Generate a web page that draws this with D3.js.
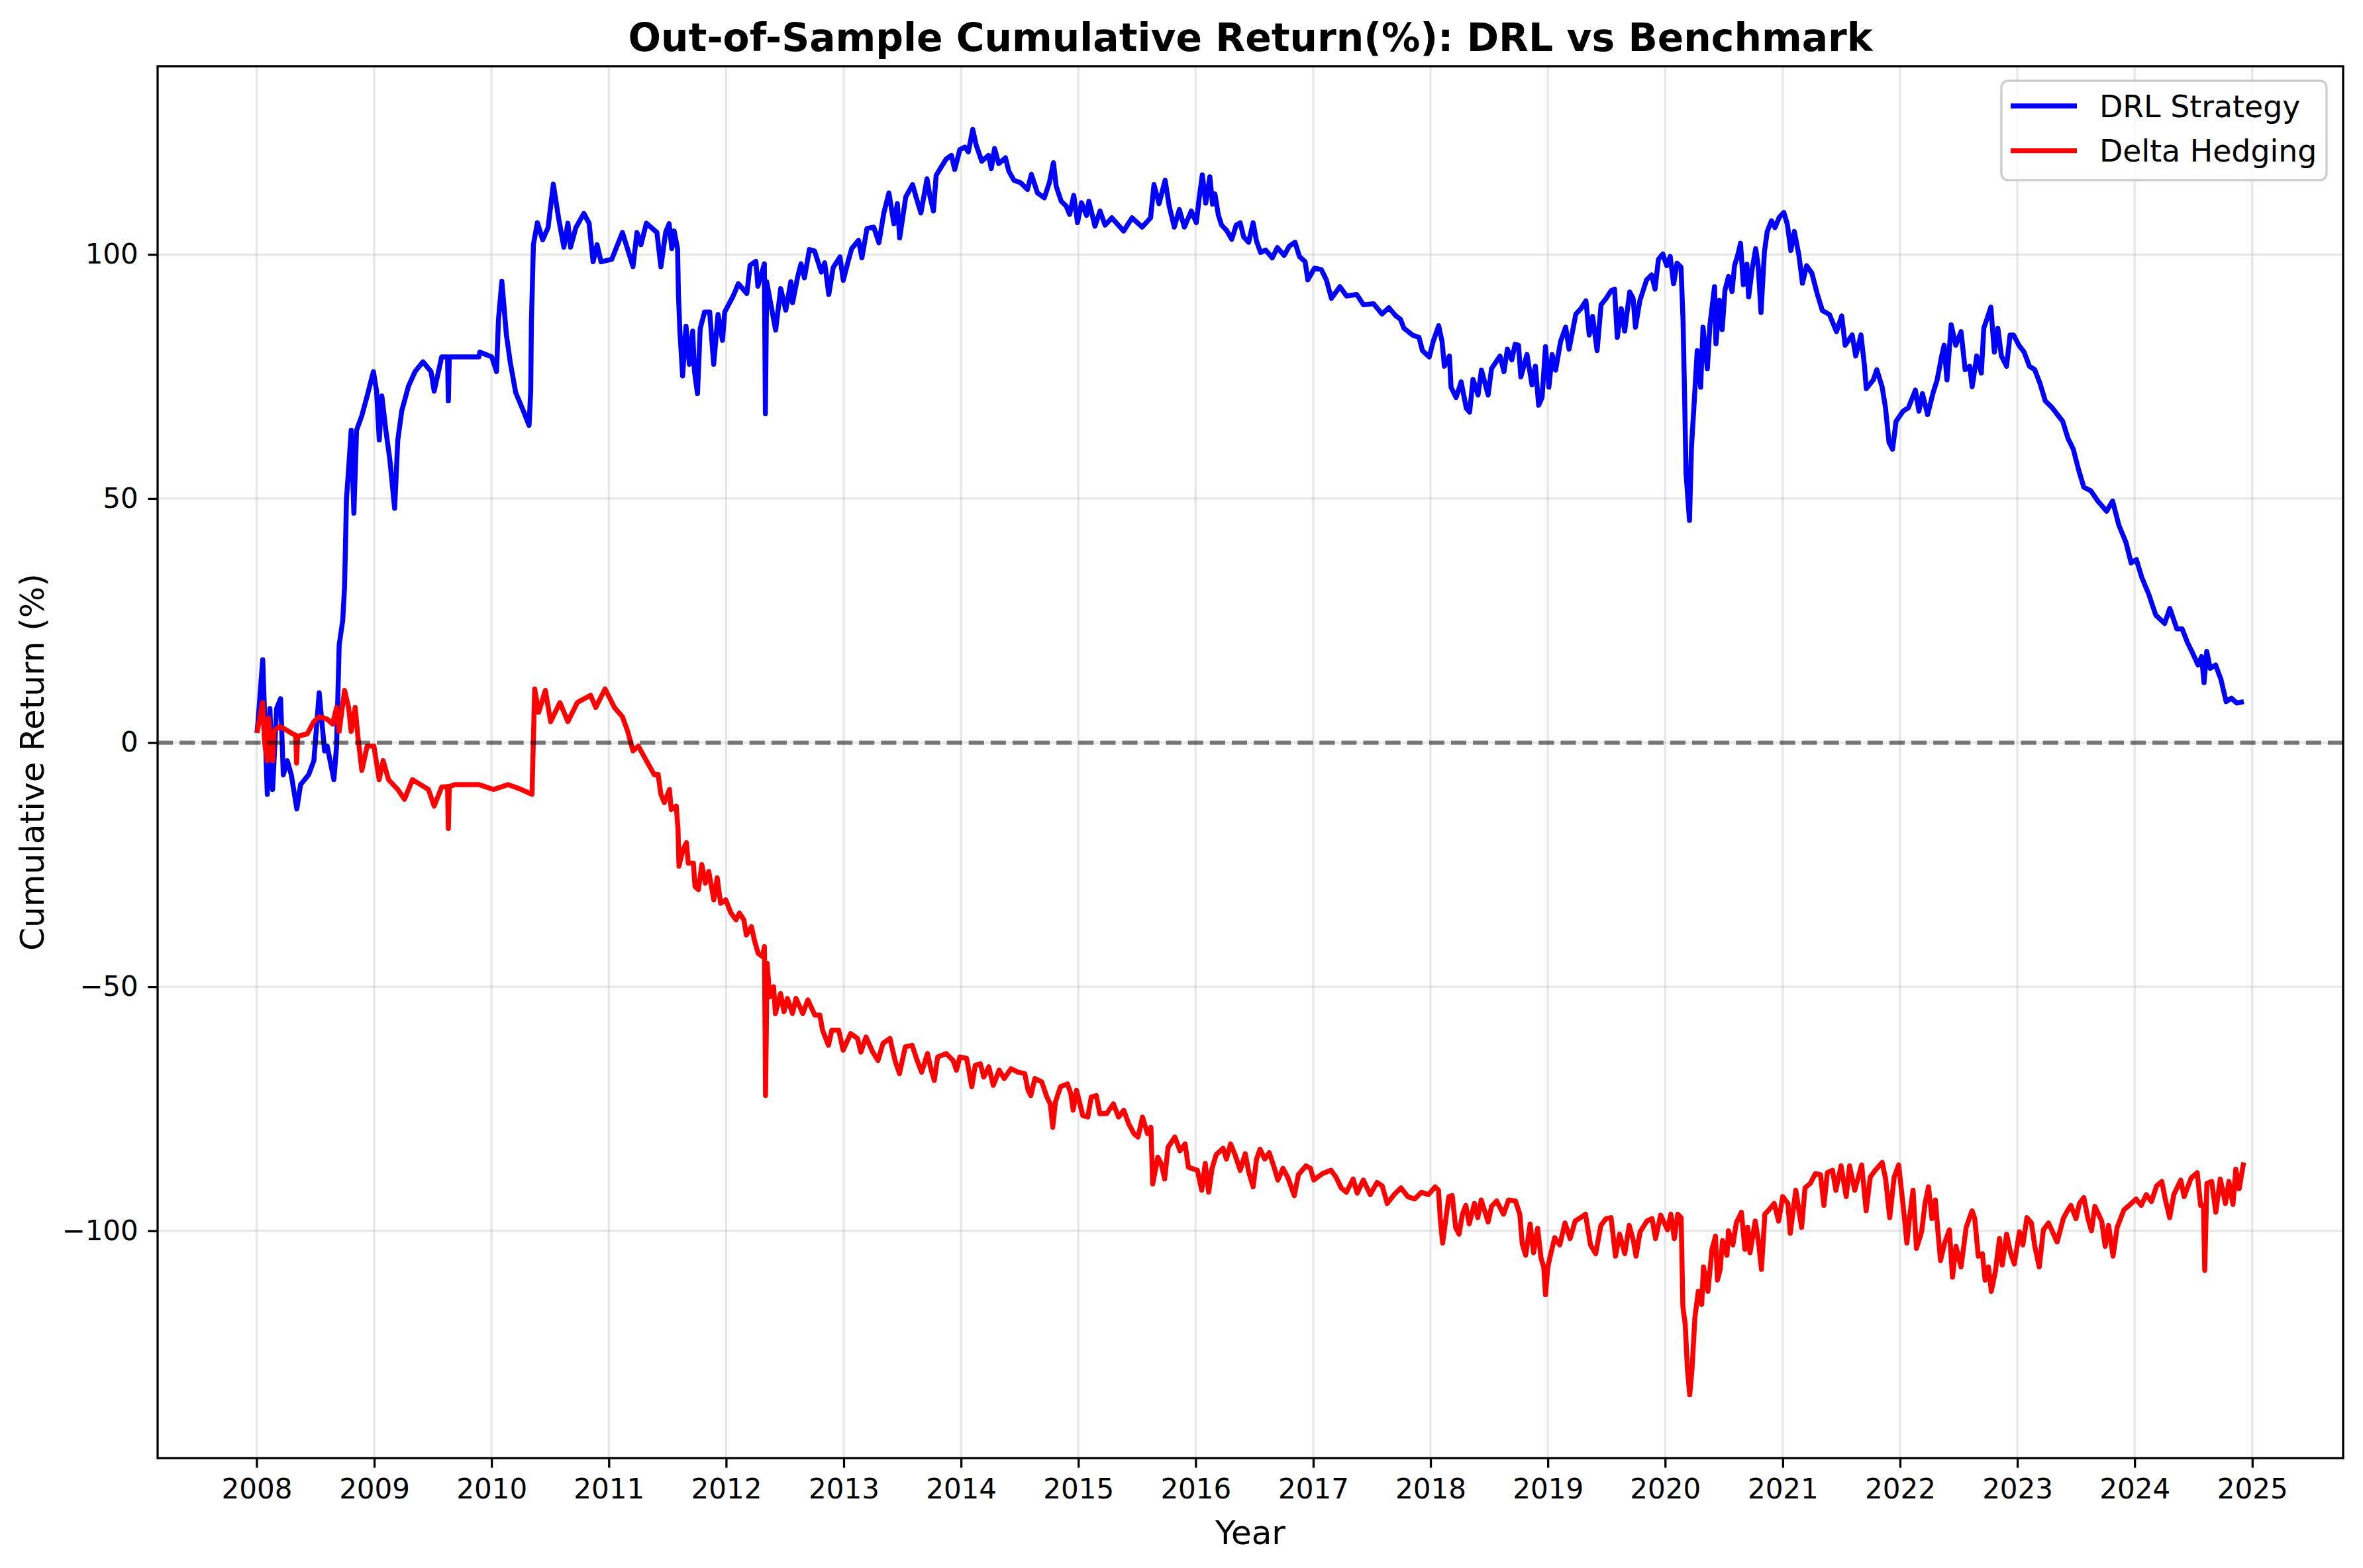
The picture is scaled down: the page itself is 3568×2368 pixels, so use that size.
<!DOCTYPE html>
<html><head><meta charset="utf-8">
<script src="https://cdn.jsdelivr.net/npm/d3@7"></script>
<style>html,body{margin:0;padding:0;background:#fff}</style>
</head><body><svg id="c" width="3568" height="2368" xmlns="http://www.w3.org/2000/svg"></svg>
<script>
const chartTitle = "Out-of-Sample Cumulative Return(%): DRL vs Benchmark";
const xLabel = "Year";
const yLabel = "Cumulative Return (%)";
const seriesNames = ["DRL Strategy", "Delta Hedging"];
const seriesColors = ["#0000ff", "#ff0000"];
const xTickYears = [2008,2009,2010,2011,2012,2013,2014,2015,2016,2017,2018,2019,2020,2021,2022,2023,2024,2025];
const yTicks = [-100, -50, 0, 50, 100];

// [decimal year, cumulative return %]
const drlPoints = [
[2008.003,2],[2008.011,4],[2008.052,17],[2008.091,-10.6],[2008.113,7],[2008.136,-9.6],[2008.170,7],[2008.204,9],[2008.227,-6.6],[2008.261,-3.7],[2008.295,-6.6],[2008.342,-13.6],[2008.374,-8.6],[2008.442,-6.6],[2008.487,-3.7],[2008.532,10.2],[2008.578,-1.7],[2008.600,-0.7],[2008.657,-7.6],[2008.680,-0.7],[2008.702,20],[2008.732,25],[2008.748,32],[2008.764,50],[2008.782,56],[2008.804,64],[2008.827,47],[2008.850,64],[2008.895,67],[2008.940,71],[2008.993,76],
[2009.020,72],[2009.043,62],[2009.065,71],[2009.099,64],[2009.133,58],[2009.174,48],[2009.201,62],[2009.235,68],[2009.292,73],[2009.348,76],[2009.416,78],[2009.484,76],[2009.511,72],[2009.575,79],[2009.625,79],[2009.632,70],[2009.640,79],[2009.711,79],[2009.892,79],[2009.900,80],
[2010.002,79],[2010.043,76],[2010.059,86.6],[2010.088,94.5],[2010.127,83.5],[2010.161,77.7],[2010.206,71.7],[2010.274,67.8],[2010.320,65],[2010.334,72],[2010.340,86],[2010.357,102],[2010.391,106.5],[2010.436,103],[2010.482,105.5],[2010.527,114.4],[2010.572,107.4],[2010.617,101.5],[2010.651,106.4],[2010.674,101.5],[2010.719,105.5],[2010.787,108.4],[2010.832,106.4],[2010.866,98.5],[2010.900,102],[2010.934,98.5],
[2011.025,99],[2011.116,104.5],[2011.206,97.5],[2011.240,104.5],[2011.274,102],[2011.320,106.4],[2011.410,104.5],[2011.444,97.5],[2011.485,104.6],[2011.514,106.3],[2011.537,101.2],[2011.557,104.8],[2011.586,101.2],[2011.594,91.5],[2011.606,84.3],[2011.629,75.1],[2011.658,85.3],[2011.687,77.5],[2011.715,84.3],[2011.730,76.1],[2011.756,71.5],[2011.779,84.8],[2011.816,88.2],[2011.860,88.2],[2011.894,77.5],[2011.931,87.7],[2011.969,82.4],[2011.988,88.2],
[2012.060,91.5],[2012.104,94.0],[2012.176,92],[2012.204,97.8],[2012.253,98.6],[2012.270,93.5],[2012.305,96.4],[2012.325,98.1],[2012.334,67.4],[2012.345,94.4],[2012.392,88.2],[2012.421,84.5],[2012.464,93],[2012.507,88.6],[2012.550,94.4],[2012.565,90.1],[2012.608,95.4],[2012.637,98.1],[2012.666,95.2],[2012.708,101],[2012.752,100.7],[2012.809,96.4],[2012.838,98.3],[2012.873,91.8],[2012.910,97.3],[2012.968,99.5],[2012.996,94.7],
[2013.040,98.8],[2013.068,101.2],[2013.126,102.9],[2013.155,99.3],[2013.198,105.3],[2013.256,105.6],[2013.300,102.4],[2013.342,108.5],[2013.385,112.6],[2013.428,106.3],[2013.457,110.4],[2013.477,103.4],[2013.529,111.8],[2013.587,114.3],[2013.616,111.8],[2013.658,108.5],[2013.710,115.5],[2013.736,111.8],[2013.765,108.9],[2013.788,116.2],[2013.831,117.9],[2013.875,119.6],[2013.918,120.3],[2013.946,117.4],[2013.990,121.5],
[2014.033,122],[2014.062,121],[2014.100,125.6],[2014.128,122.5],[2014.177,119.1],[2014.235,120.3],[2014.258,117.6],[2014.286,121.7],[2014.321,118.6],[2014.379,119.8],[2014.407,117.1],[2014.451,115.2],[2014.508,114.7],[2014.566,113.3],[2014.600,116.4],[2014.652,112.6],[2014.710,111.6],[2014.753,114.7],[2014.788,118.8],[2014.811,114],[2014.854,110.9],[2014.897,109.9],[2014.926,108.2],[2014.961,112.1],[2014.993,106.5],
[2015.027,110.6],[2015.070,108],[2015.090,110.9],[2015.142,105.8],[2015.185,108.9],[2015.228,106],[2015.286,107.5],[2015.386,104.8],[2015.458,107.5],[2015.544,105.6],[2015.616,107.5],[2015.645,114.3],[2015.688,110.4],[2015.740,115.2],[2015.775,109.9],[2015.818,105.6],[2015.861,109.2],[2015.904,105.6],[2015.963,108.9],
[2016.006,106.5],[2016.029,111.3],[2016.057,116.3],[2016.086,110.5],[2016.121,115.9],[2016.144,110.3],[2016.164,112.4],[2016.193,108.1],[2016.221,106],[2016.264,104.9],[2016.307,103.1],[2016.345,106],[2016.379,106.5],[2016.408,103.6],[2016.451,102.5],[2016.489,106.5],[2016.517,102.8],[2016.552,100.4],[2016.595,100.9],[2016.652,99.3],[2016.695,101.4],[2016.753,99.8],[2016.796,101.7],[2016.845,102.5],[2016.882,99.6],[2016.931,98.5],[2016.954,94.8],
[2017.011,97.2],[2017.069,96.9],[2017.112,94.8],[2017.155,91],[2017.227,93.4],[2017.284,91.5],[2017.371,91.8],[2017.428,89.7],[2017.514,89.9],[2017.586,87.8],[2017.644,89.1],[2017.701,87.5],[2017.744,86.7],[2017.773,84.9],[2017.845,83.5],[2017.902,83],[2017.931,80.3],[2017.989,79],
[2018.023,82.2],[2018.069,85.4],[2018.098,82.2],[2018.118,77.1],[2018.161,79.2],[2018.175,72.8],[2018.218,70.7],[2018.261,73.9],[2018.305,68.5],[2018.333,67.7],[2018.362,74.4],[2018.405,71.2],[2018.434,76.3],[2018.491,71.2],[2018.520,76.6],[2018.592,79.2],[2018.626,76],[2018.655,80.6],[2018.693,78.4],[2018.721,81.6],[2018.750,81.4],[2018.770,74.9],[2018.822,79.5],[2018.865,73.3],[2018.894,77.1],[2018.922,69.1],[2018.951,70.7],[2018.980,81.1],
[2019.009,72.8],[2019.037,79.5],[2019.066,76.3],[2019.109,82.2],[2019.152,85.1],[2019.181,80.6],[2019.239,87.8],[2019.282,88.9],[2019.325,90.5],[2019.353,83.5],[2019.382,87.3],[2019.420,80.3],[2019.454,89.7],[2019.497,91],[2019.540,92.6],[2019.569,92.9],[2019.592,83],[2019.626,88.9],[2019.655,84.3],[2019.698,92.3],[2019.727,91],[2019.747,85.1],[2019.784,90.5],[2019.842,94.8],[2019.885,95.8],[2019.914,92.9],[2019.943,99],[2019.980,100.1],
[2020.014,97.7],[2020.043,99.6],[2020.072,94],[2020.101,98.2],[2020.135,97.4],[2020.152,86.7],[2020.164,72.8],[2020.178,55.1],[2020.207,45.5],[2020.224,60.5],[2020.244,68.5],[2020.273,80.3],[2020.302,72.8],[2020.322,85.1],[2020.359,76.6],[2020.381,85.6],[2020.420,93.4],[2020.432,81.7],[2020.462,90.6],[2020.485,84.6],[2020.509,92.7],[2020.539,95.5],[2020.569,92.4],[2020.590,97.7],[2020.620,100.1],[2020.641,102.3],[2020.665,93.8],[2020.695,98],[2020.710,91.3],[2020.740,97],[2020.770,101.2],[2020.791,97.7],[2020.815,88.1],[2020.844,100.5],[2020.868,104.7],[2020.904,106.9],[2020.934,105.5],[2020.970,107.6],
[2021.009,108.6],[2021.039,106.2],[2021.069,100.8],[2021.099,104.7],[2021.138,99.8],[2021.168,94.1],[2021.203,97.7],[2021.248,96.2],[2021.293,92],[2021.338,88.5],[2021.398,87.7],[2021.458,84.2],[2021.503,87.4],[2021.532,81.4],[2021.592,83.5],[2021.622,79.2],[2021.667,83.5],[2021.697,77.1],[2021.712,72.5],[2021.772,74.3],[2021.802,76.4],[2021.847,72.9],[2021.876,68.6],[2021.906,61.5],[2021.936,60.1],[2021.966,65.8],
[2022.026,67.9],[2022.071,68.6],[2022.131,72.2],[2022.161,67.9],[2022.191,71.5],[2022.235,67.2],[2022.280,71.5],[2022.316,74.3],[2022.355,79.2],[2022.376,81.4],[2022.400,74.3],[2022.436,85.6],[2022.475,81.4],[2022.520,84.2],[2022.555,76.4],[2022.594,77.1],[2022.615,72.9],[2022.654,79.2],[2022.693,75.7],[2022.714,84.9],[2022.744,87],[2022.774,89.2],[2022.804,80],[2022.834,84.9],[2022.864,79.2],[2022.908,77.1],[2022.938,83.5],[2022.968,83.5],
[2023.013,81.4],[2023.058,80],[2023.103,77.1],[2023.148,76.4],[2023.193,73.6],[2023.238,70],[2023.297,68.6],[2023.342,67.2],[2023.387,65.8],[2023.432,62.3],[2023.477,60.1],[2023.522,55.9],[2023.567,52.3],[2023.626,51.6],[2023.686,49.5],[2023.761,47.4],[2023.812,49.5],[2023.866,44.5],[2023.926,41],[2023.970,36.8],
[2024.015,37.5],[2024.060,33.9],[2024.120,30.4],[2024.180,26.1],[2024.255,24.4],[2024.299,27.5],[2024.359,23.3],[2024.404,23.3],[2024.449,20.5],[2024.494,18.3],[2024.539,15.9],[2024.569,17.6],[2024.590,12.3],[2024.613,18.7],[2024.643,15.2],[2024.688,15.9],[2024.733,13],[2024.778,8.4],[2024.823,9.1],[2024.868,8.1],[2024.928,8.4]
];

const deltaPoints = [
[2008.003,2],[2008.052,8.2],[2008.068,0],[2008.091,-3.7],[2008.102,5],[2008.136,-3.7],[2008.147,2.3],[2008.193,3.3],[2008.238,2.8],[2008.306,1.8],[2008.333,1.5],[2008.340,-4.2],[2008.349,1.3],[2008.431,1.8],[2008.487,4.3],[2008.533,5.3],[2008.600,4.8],[2008.646,3.8],[2008.680,7.2],[2008.702,2.3],[2008.748,10.7],[2008.782,7.2],[2008.804,2.3],[2008.838,7.2],[2008.861,1.3],[2008.895,-5.7],[2008.940,-0.7],[2008.997,-0.7],
[2009.042,-7.6],[2009.076,-3.7],[2009.122,-7.6],[2009.201,-9.6],[2009.258,-11.6],[2009.326,-7.6],[2009.394,-8.6],[2009.462,-9.6],[2009.511,-13],[2009.575,-9.1],[2009.625,-9],[2009.632,-17.6],[2009.640,-9],[2009.688,-8.6],[2009.892,-8.6],
[2010.017,-9.6],[2010.141,-8.6],[2010.255,-9.6],[2010.345,-10.6],[2010.368,11],[2010.402,6.2],[2010.459,10.7],[2010.504,4.3],[2010.583,8.2],[2010.651,4.3],[2010.731,8.2],[2010.844,9.7],[2010.889,7.2],[2010.968,11],
[2011.048,7.2],[2011.116,5.3],[2011.161,2.3],[2011.206,-1.7],[2011.252,-0.7],[2011.320,-3.7],[2011.388,-6.6],[2011.420,-6.5],[2011.444,-10.6],[2011.473,-12.3],[2011.517,-9.6],[2011.532,-13.7],[2011.575,-13],[2011.590,-17.8],[2011.598,-25.3],[2011.633,-21.9],[2011.662,-20.5],[2011.677,-24.7],[2011.721,-24.7],[2011.735,-29.5],[2011.764,-30.1],[2011.793,-25],[2011.823,-28.8],[2011.852,-26.4],[2011.895,-32.2],[2011.924,-27.7],[2011.953,-32.9],[2011.997,-32.2],
[2012.041,-34.9],[2012.084,-36.3],[2012.113,-34.9],[2012.151,-36.3],[2012.172,-39.4],[2012.215,-37.7],[2012.244,-40.8],[2012.273,-43.2],[2012.308,-43.8],[2012.326,-41.8],[2012.335,-72.3],[2012.349,-45.2],[2012.370,-52.1],[2012.404,-50],[2012.419,-55.5],[2012.463,-51.4],[2012.492,-55.1],[2012.521,-52.4],[2012.564,-55.5],[2012.594,-52.4],[2012.652,-55.5],[2012.695,-52.7],[2012.754,-55.8],[2012.797,-55.8],[2012.820,-58.9],[2012.870,-62],[2012.899,-58.9],[2012.957,-58.9],[2012.995,-63],
[2013.059,-59.6],[2013.117,-60.6],[2013.146,-63.4],[2013.190,-60.3],[2013.248,-63.4],[2013.292,-65.1],[2013.335,-61.6],[2013.394,-60.6],[2013.437,-65.1],[2013.475,-67.8],[2013.525,-62.3],[2013.583,-62],[2013.626,-65.1],[2013.664,-67.5],[2013.714,-63.7],[2013.743,-66.8],[2013.772,-69.2],[2013.801,-64.4],[2013.874,-63.7],[2013.932,-65.1],[2013.961,-67.1],[2013.990,-64.4],
[2014.048,-64.7],[2014.092,-70.5],[2014.121,-66.1],[2014.165,-65.8],[2014.194,-68.5],[2014.237,-66.4],[2014.275,-70.2],[2014.325,-67.1],[2014.368,-68.8],[2014.427,-66.8],[2014.485,-67.5],[2014.543,-67.8],[2014.572,-71.2],[2014.595,-72.3],[2014.630,-68.8],[2014.688,-69.5],[2014.732,-72.6],[2014.761,-74],[2014.782,-78.8],[2014.805,-73.6],[2014.848,-70.5],[2014.907,-69.9],[2014.936,-71.9],[2014.956,-75.3],[2014.985,-71.2],
[2015.038,-76.4],[2015.081,-76.7],[2015.110,-72.6],[2015.154,-72.3],[2015.183,-76],[2015.241,-76],[2015.299,-74],[2015.343,-76.7],[2015.387,-75.3],[2015.430,-78.1],[2015.474,-80.1],[2015.509,-80.8],[2015.547,-76.7],[2015.590,-80.1],[2015.619,-78.8],[2015.634,-90.4],[2015.678,-84.9],[2015.707,-86.3],[2015.736,-89.4],[2015.765,-82.9],[2015.823,-80.8],[2015.867,-83.6],[2015.910,-82.2],[2015.939,-87],
[2016.015,-87.6],[2016.052,-91.7],[2016.082,-86.2],[2016.111,-92.1],[2016.140,-87.2],[2016.175,-84.4],[2016.233,-83.1],[2016.262,-85.3],[2016.297,-82.2],[2016.335,-84.4],[2016.379,-87.6],[2016.422,-84.2],[2016.452,-88],[2016.489,-91],[2016.518,-85.3],[2016.548,-83.3],[2016.588,-85.3],[2016.626,-84],[2016.670,-87.2],[2016.699,-89.6],[2016.743,-87.2],[2016.786,-89.2],[2016.839,-92.8],[2016.874,-88.5],[2016.938,-86.7],[2016.976,-87.2],
[2017.005,-89.6],[2017.078,-88.3],[2017.151,-87.6],[2017.194,-89],[2017.238,-91.2],[2017.282,-92.1],[2017.340,-89.4],[2017.375,-92.3],[2017.427,-89.6],[2017.486,-92.6],[2017.544,-90.1],[2017.588,-90.8],[2017.631,-94.4],[2017.689,-92.6],[2017.748,-91.2],[2017.806,-93],[2017.864,-93.5],[2017.923,-92.1],[2017.981,-92.6],
[2018.039,-91],[2018.068,-91.7],[2018.083,-97.5],[2018.103,-102.5],[2018.126,-98.4],[2018.156,-93],[2018.185,-92.8],[2018.214,-99.3],[2018.243,-100.7],[2018.272,-96.6],[2018.301,-94.8],[2018.330,-98.6],[2018.374,-94.4],[2018.403,-97.3],[2018.432,-93.7],[2018.491,-98.2],[2018.520,-95],[2018.563,-93.9],[2018.622,-96.6],[2018.665,-93.7],[2018.724,-93.9],[2018.761,-96.6],[2018.782,-102.7],[2018.811,-105],[2018.849,-98.6],[2018.878,-104.5],[2018.913,-99.5],[2018.942,-105.6],[2018.965,-107.4],[2018.980,-113.1],
[2019.000,-107.4],[2019.029,-104.3],[2019.059,-101.4],[2019.102,-102.9],[2019.146,-98.4],[2019.190,-101.6],[2019.233,-98],[2019.292,-97.1],[2019.321,-96.6],[2019.364,-102.9],[2019.408,-104.7],[2019.452,-98.9],[2019.496,-97.5],[2019.539,-97.3],[2019.577,-105.2],[2019.612,-100.7],[2019.656,-104.7],[2019.694,-98.9],[2019.729,-102],[2019.752,-105.2],[2019.787,-100.2],[2019.845,-98],[2019.889,-97.5],[2019.918,-101.6],[2019.962,-96.8],
[2020.020,-99.8],[2020.049,-96.6],[2020.078,-101.6],[2020.107,-96.6],[2020.136,-97.3],[2020.151,-115.6],[2020.171,-119.2],[2020.189,-128.2],[2020.209,-133.6],[2020.229,-128.2],[2020.253,-117.8],[2020.282,-112.4],[2020.311,-115.1],[2020.326,-107.4],[2020.364,-112.4],[2020.398,-103.8],[2020.428,-101.1],[2020.445,-110.1],[2020.468,-107.9],[2020.488,-102],[2020.526,-105],[2020.538,-100],[2020.576,-102.9],[2020.605,-98.4],[2020.649,-96.2],[2020.678,-103.8],[2020.702,-99.3],[2020.722,-104.5],[2020.766,-98],[2020.795,-102.5],[2020.819,-107.9],[2020.848,-96.6],[2020.883,-95.7],[2020.927,-94.4],[2020.965,-98],
[2021.000,-93],[2021.044,-94.4],[2021.064,-100.5],[2021.111,-91.7],[2021.161,-99.3],[2021.190,-91.2],[2021.234,-90.3],[2021.278,-88.3],[2021.322,-88.5],[2021.351,-94.8],[2021.380,-88.1],[2021.424,-87.6],[2021.453,-91.7],[2021.497,-86.7],[2021.541,-93],[2021.570,-86.7],[2021.614,-91.7],[2021.673,-86.5],[2021.711,-95.9],[2021.746,-89],[2021.789,-87.6],[2021.848,-86],[2021.877,-89.4],[2021.912,-97.3],[2021.950,-89],[2021.988,-86.5],
[2022.018,-93],[2022.038,-97.5],[2022.058,-102.5],[2022.082,-97.1],[2022.111,-91.7],[2022.140,-103.6],[2022.184,-100.2],[2022.213,-94.4],[2022.243,-91],[2022.272,-97.5],[2022.301,-93.7],[2022.322,-99.8],[2022.345,-106.1],[2022.380,-102.5],[2022.421,-99.8],[2022.447,-109.5],[2022.477,-103.2],[2022.520,-107.4],[2022.564,-99.3],[2022.614,-95.9],[2022.637,-97.5],[2022.667,-105.2],[2022.702,-104.7],[2022.725,-110.1],[2022.754,-107.4],[2022.778,-112.4],[2022.813,-108.3],[2022.848,-101.6],[2022.871,-107],[2022.909,-100.7],[2022.944,-104.7],[2022.974,-106.8],
[2023.018,-100.2],[2023.047,-102.9],[2023.082,-97.3],[2023.120,-98.4],[2023.149,-103.2],[2023.187,-107.4],[2023.222,-99.8],[2023.266,-98.4],[2023.339,-102.3],[2023.392,-97.5],[2023.427,-95.9],[2023.456,-94.8],[2023.500,-97.5],[2023.529,-94.4],[2023.567,-93.2],[2023.602,-97.5],[2023.632,-100],[2023.661,-95],[2023.719,-98],[2023.749,-103.2],[2023.778,-98.9],[2023.816,-105.2],[2023.851,-99.3],[2023.909,-95.7],[2023.953,-94.8],
[2024.012,-93.5],[2024.056,-94.8],[2024.099,-92.6],[2024.143,-94],[2024.187,-90.8],[2024.231,-89.9],[2024.260,-93.5],[2024.298,-97.3],[2024.333,-92.6],[2024.392,-89.6],[2024.421,-93],[2024.480,-89.2],[2024.532,-88.1],[2024.561,-94.8],[2024.585,-94.8],[2024.596,-108.1],[2024.614,-90.3],[2024.655,-89.9],[2024.690,-96.2],[2024.728,-89.4],[2024.772,-94.4],[2024.801,-89.9],[2024.836,-94.6],[2024.860,-87.4],[2024.889,-91.4],[2024.918,-87.2],[2024.928,-86]
];

const seriesData = [drlPoints, deltaPoints];

function toDate(yf) {
  const y = Math.floor(yf);
  const s = Date.UTC(y, 0, 1), e = Date.UTC(y + 1, 0, 1);
  return new Date(s + (yf - y) * (e - s));
}

const W = 3568, H = 2368;
const L = 238, R = 3538, T = 100, B = 2202;
const FONT = "'DejaVu Sans', sans-serif";
const svg = d3.select("#c");
svg.append("rect").attr("width", W).attr("height", H).attr("fill", "#fff");

const allPts = drlPoints.concat(deltaPoints);
const t0 = d3.min(allPts, d => toDate(d[0]).getTime());
const t1 = d3.max(allPts, d => toDate(d[0]).getTime());
const tp = (t1 - t0) * 0.05;
const x = d3.scaleUtc().domain([new Date(t0 - tp), new Date(t1 + tp)]).range([L, R]);
const vMin = d3.min(allPts, d => d[1]), vMax = d3.max(allPts, d => d[1]);
const vp = (vMax - vMin) * 0.05;
const y = d3.scaleLinear().domain([vMin - vp, vMax + vp]).range([B, T]);

const xTickDates = xTickYears.map(yr => new Date(Date.UTC(yr, 0, 1)));

// grid
const grid = svg.append("g");
grid.selectAll("line.vg").data(xTickDates).enter().append("line")
  .attr("x1", d => x(d)).attr("x2", d => x(d)).attr("y1", T).attr("y2", B)
  .attr("stroke", "#b0b0b0").attr("stroke-opacity", 0.3).attr("stroke-width", 3.3);
grid.selectAll("line.hg").data(yTicks).enter().append("line")
  .attr("x1", L).attr("x2", R).attr("y1", d => y(d)).attr("y2", d => y(d))
  .attr("stroke", "#b0b0b0").attr("stroke-opacity", 0.3).attr("stroke-width", 3.3);

// lines
const line = d3.line().x(d => x(toDate(d[0]))).y(d => y(d[1]));
seriesData.forEach((pts, i) => {
  svg.append("path").datum(pts).attr("d", line)
    .attr("fill", "none").attr("stroke", seriesColors[i])
    .attr("stroke-width", 7.5).attr("stroke-linejoin", "round").attr("stroke-linecap", "butt");
});

// zero line
svg.append("line").attr("x1", L).attr("x2", R).attr("y1", y(0)).attr("y2", y(0))
  .attr("stroke", "#000").attr("stroke-opacity", 0.5).attr("stroke-width", 6.25)
  .attr("stroke-dasharray", "23.1,10");

// axes
const fmtY = d => d < 0 ? "\u2212" + Math.abs(d) : String(d);
const xAxis = svg.append("g").attr("transform", `translate(0,${B})`)
  .call(d3.axisBottom(x).tickValues(xTickDates).tickFormat(d3.utcFormat("%Y")).tickSize(14.6).tickPadding(17));
const yAxis = svg.append("g").attr("transform", `translate(${L},0)`)
  .call(d3.axisLeft(y).tickValues(yTicks).tickFormat(fmtY).tickSize(14.6).tickPadding(14.6));
[xAxis, yAxis].forEach(a => {
  a.select(".domain").remove();
  a.selectAll(".tick line").attr("stroke", "#000").attr("stroke-width", 3.3);
  a.selectAll(".tick text").attr("fill", "#000").style("font-family", FONT).style("font-size", "42px");
});

// frame
svg.append("rect").attr("x", L).attr("y", T).attr("width", R - L).attr("height", B - T)
  .attr("fill", "none").attr("stroke", "#000").attr("stroke-width", 3.3);

// title and labels
svg.append("text").attr("x", (L + R) / 2).attr("y", 76.5).attr("text-anchor", "middle")
  .style("font-family", FONT).style("font-size", "58.3px").style("font-weight", "bold").text(chartTitle);
svg.append("text").attr("x", (L + R) / 2).attr("y", 2332).attr("text-anchor", "middle")
  .style("font-family", FONT).style("font-size", "50px").text(xLabel);
svg.append("text").attr("transform", `translate(66,${(T + B) / 2}) rotate(-90)`).attr("text-anchor", "middle")
  .style("font-family", FONT).style("font-size", "50px").text(yLabel);

// legend
const lg = svg.append("g");
lg.append("rect").attr("x", 3022).attr("y", 122).attr("width", 491).attr("height", 150).attr("rx", 10)
  .attr("fill", "#fff").attr("fill-opacity", 0.8).attr("stroke", "#cccccc").attr("stroke-width", 3.3);
seriesNames.forEach((nm, i) => {
  const cy = 160 + i * 67.7;
  lg.append("line").attr("x1", 3036).attr("x2", 3136).attr("y1", cy).attr("y2", cy)
    .attr("stroke", seriesColors[i]).attr("stroke-width", 7.3);
  lg.append("text").attr("x", 3170).attr("y", cy + 16.5).style("font-family", FONT).style("font-size", "45.8px").text(nm);
});
</script></body></html>
